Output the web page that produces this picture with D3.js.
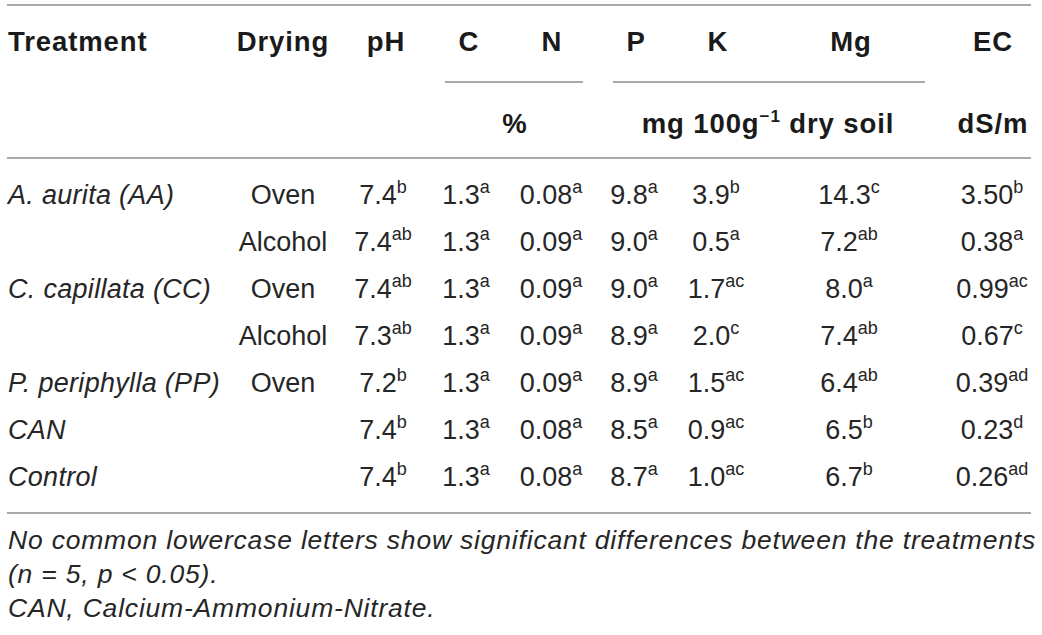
<!DOCTYPE html>
<html>
<head>
<meta charset="utf-8">
<script src="https://cdn.jsdelivr.net/npm/d3@7"></script>
<style>
  html, body { margin: 0; padding: 0; background: #fff; }
  svg { display: block; font-family: "Liberation Sans", Arial, Helvetica, sans-serif; }
</style>
</head>
<body>
<div id="chart"></div>
<script>
// table contents
let treatments = ["A. aurita (AA)", "", "C. capillata (CC)", "", "P. periphylla (PP)", "CAN", "Control"];
let drying = ["Oven", "Alcohol", "Oven", "Alcohol", "Oven", "", ""];
let pH = ["7.4", "7.4", "7.4", "7.3", "7.2", "7.4", "7.4"];
let pHSig = ["b", "ab", "ab", "ab", "b", "b", "b"];
let carbon = ["1.3", "1.3", "1.3", "1.3", "1.3", "1.3", "1.3"];
let carbonSig = ["a", "a", "a", "a", "a", "a", "a"];
let nitrogen = ["0.08", "0.09", "0.09", "0.09", "0.09", "0.08", "0.08"];
let nitrogenSig = ["a", "a", "a", "a", "a", "a", "a"];
let phosphorus = ["9.8", "9.0", "9.0", "8.9", "8.9", "8.5", "8.7"];
let phosphorusSig = ["a", "a", "a", "a", "a", "a", "a"];
let potassium = ["3.9", "0.5", "1.7", "2.0", "1.5", "0.9", "1.0"];
let potassiumSig = ["b", "a", "ac", "c", "ac", "ac", "ac"];
let magnesium = ["14.3", "7.2", "8.0", "7.4", "6.4", "6.5", "6.7"];
let magnesiumSig = ["c", "ab", "a", "ab", "ab", "b", "b"];
let ec = ["3.50", "0.38", "0.99", "0.67", "0.39", "0.23", "0.26"];
let ecSig = ["b", "a", "ac", "c", "ad", "d", "ad"];

let headers = ["Treatment", "Drying", "pH", "C", "N", "P", "K", "Mg", "EC"];
let units = [
  { text: "%", sup: "", from: "C", to: "N" },
  { text: "mg 100g", sup: "\u22121", after: " dry soil", from: "P", to: "Mg" },
  { text: "dS/m", sup: "", from: "EC", to: "EC" }
];
let footnotes = [
  "No common lowercase letters show significant differences between the treatments",
  "(n = 5, p < 0.05).",
  "CAN, Calcium-Ammonium-Nitrate."
];

let width = 1042, height = 635;
let svg = d3.select("#chart").append("svg").attr("width", width).attr("height", height);

// column centres (headers and values differ slightly)
let headX = d3.scaleOrdinal().domain(headers).range([8, 283, 386, 469, 552, 636, 718, 851, 993]);
let cellX = d3.scaleOrdinal().domain(headers).range([8, 283, 383, 466, 551, 634, 716, 849, 992]);
let rowY = d3.scalePoint().domain(d3.range(treatments.length)).range([204, 486]);

let lineColor = "#8c8c8c";

function hline(x1, x2, y) {
  svg.append("line")
    .attr("x1", x1).attr("x2", x2)
    .attr("y1", y).attr("y2", y)
    .attr("stroke", lineColor)
    .attr("stroke-width", 1.6);
}

hline(7, 1031, 5);
hline(7, 1031, 158);
hline(7, 1031, 513);
// group rules under C–N and P–Mg
hline(445, 583, 82);
hline(613, 925, 82);

// header row
svg.selectAll("text.head")
  .data(headers)
  .enter()
  .append("text")
  .attr("class", "head")
  .attr("x", d => headX(d))
  .attr("y", 51)
  .attr("text-anchor", d => (d === "Treatment" ? "start" : "middle"))
  .attr("font-size", 27.5)
  .attr("font-weight", 700)
  .attr("letter-spacing", 0.9)
  .attr("fill", "#1a1a1a")
  .text(d => d);

// unit row
let unitText = svg.selectAll("text.unit")
  .data(units)
  .enter()
  .append("text")
  .attr("class", "unit")
  .attr("x", d => d.from === "EC" ? headX("EC") : d.from === "C" ? 515 : 768)
  .attr("y", 133)
  .attr("text-anchor", "middle")
  .attr("font-size", 27.5)
  .attr("font-weight", 700)
  .attr("letter-spacing", 0.9)
  .attr("fill", "#1a1a1a");
unitText.append("tspan").text(d => d.text);
unitText.filter(d => d.sup)
  .append("tspan")
  .attr("font-size", 17)
  .attr("dy", -11)
  .text(d => d.sup);
unitText.filter(d => d.after)
  .append("tspan")
  .attr("dy", 11)
  .text(d => d.after);

// body
let numCols = [
  ["pH", pH, pHSig],
  ["C", carbon, carbonSig],
  ["N", nitrogen, nitrogenSig],
  ["P", phosphorus, phosphorusSig],
  ["K", potassium, potassiumSig],
  ["Mg", magnesium, magnesiumSig],
  ["EC", ec, ecSig]
];

let body = svg.append("g").attr("fill", "#262626").attr("font-size", 27);

body.selectAll("text.treat")
  .data(treatments)
  .enter()
  .append("text")
  .attr("class", "treat")
  .attr("x", cellX("Treatment"))
  .attr("y", (d, i) => rowY(i))
  .attr("font-style", "italic")
  .attr("letter-spacing", 0.3)
  .text(d => d);

body.selectAll("text.dry")
  .data(drying)
  .enter()
  .append("text")
  .attr("class", "dry")
  .attr("x", cellX("Drying"))
  .attr("y", (d, i) => rowY(i))
  .attr("text-anchor", "middle")
  .text(d => d);

numCols.forEach(([key, vals, sigs]) => {
  let cells = body.selectAll("text.c-" + key)
    .data(vals.map((v, i) => ({ v: v, s: sigs[i], i: i })))
    .enter()
    .append("text")
    .attr("class", "c-" + key)
    .attr("x", cellX(key))
    .attr("y", d => rowY(d.i))
    .attr("text-anchor", "middle");
  cells.append("tspan").text(d => d.v);
  cells.append("tspan")
    .attr("font-size", 18)
    .attr("dy", -11)
    .text(d => d.s);
});

// notes under the table
svg.append("g")
  .selectAll("text")
  .data(footnotes)
  .enter()
  .append("text")
  .attr("x", 8)
  .attr("y", (d, i) => 549 + i * 34)
  .attr("font-size", 26.5)
  .attr("font-style", "italic")
  .attr("letter-spacing", 0.8)
  .attr("fill", "#262626")
  .text(d => d);
</script>
</body>
</html>
